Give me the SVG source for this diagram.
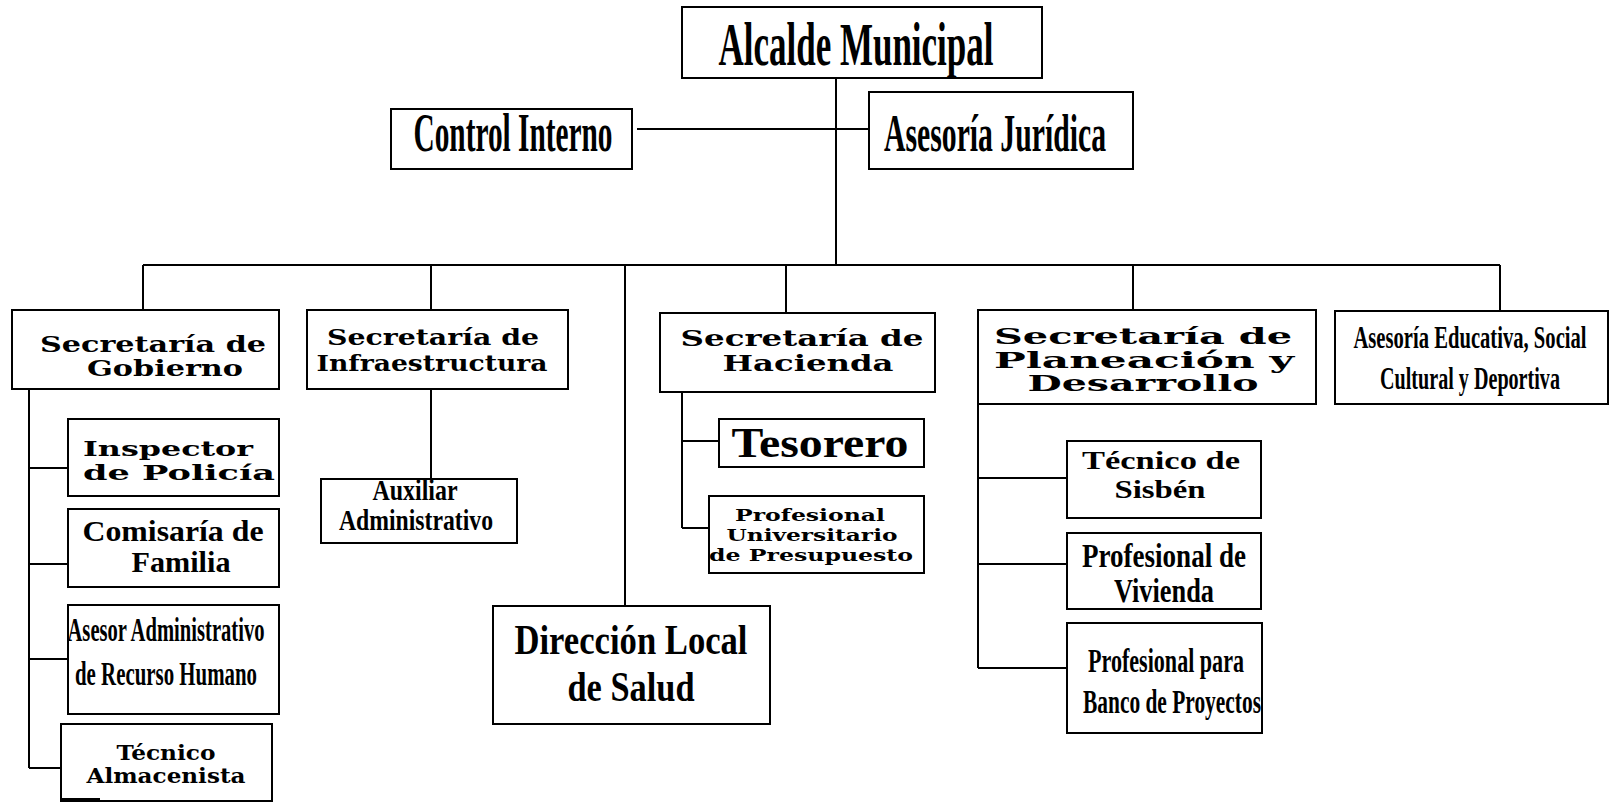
<svg xmlns="http://www.w3.org/2000/svg" width="1610" height="803" viewBox="0 0 1610 803">
<style>
rect{fill:#fff;stroke:#000;stroke-width:2}
.c path{fill:none;stroke:#000;stroke-width:2}
text{fill:#000;font-weight:bold;text-anchor:middle}
.x{font-family:"DejaVu Serif","Liberation Serif",serif}
.n{font-family:"Liberation Serif","Times New Roman",serif}
</style>
<rect x="0" y="0" width="1610" height="803" style="stroke:none"/>
<g class="c" id="connectors">
<path d="M836 78V265M637 129H869M143 265H1500M143 265V310M431 265V310M625 265V606M786 265V313M1133 265V310M1500 265V311"/>
<path d="M29 389V768M29 468H68M29 564H68M29 659H68M29 768H61"/>
<path d="M431 389V479"/>
<path d="M682 392V528M682 441H719M682 528H709"/>
<path d="M978 404V668M978 478H1067M978 564H1067M978 668H1067"/>
</g>
<g id="alcalde"><rect x="682" y="7" width="360" height="71"/><text class="n" x="856" y="65" font-size="62" textLength="275" lengthAdjust="spacingAndGlyphs">Alcalde Municipal</text></g>
<g id="control"><rect x="391" y="109" width="241" height="60"/><text class="n" x="513" y="151" font-size="54" textLength="199" lengthAdjust="spacingAndGlyphs">Control Interno</text></g>
<g id="juridica"><rect x="869" y="92" width="264" height="77"/><text class="n" x="995" y="151" font-size="52" textLength="222" lengthAdjust="spacingAndGlyphs">Asesoría Jurídica</text></g>
<g id="gobierno"><rect x="12" y="310" width="267" height="79"/><text class="x" x="153" y="352" font-size="23" textLength="226" lengthAdjust="spacingAndGlyphs">Secretaría de</text><text class="x" x="165" y="376" font-size="23" textLength="156" lengthAdjust="spacingAndGlyphs">Gobierno</text></g>
<g id="infra"><rect x="307" y="310" width="261" height="79"/><text class="x" x="433" y="345" font-size="23" textLength="212" lengthAdjust="spacingAndGlyphs">Secretaría de</text><text class="x" x="432" y="371" font-size="23" textLength="231" lengthAdjust="spacingAndGlyphs">Infraestructura</text></g>
<g id="hacienda"><rect x="660" y="313" width="275" height="79"/><text class="x" x="802" y="346" font-size="23" textLength="243" lengthAdjust="spacingAndGlyphs">Secretaría de</text><text class="x" x="808" y="371" font-size="23" textLength="171" lengthAdjust="spacingAndGlyphs">Hacienda</text></g>
<g id="planeacion"><rect x="978" y="310" width="338" height="94"/><text class="x" x="1143" y="344" font-size="22" textLength="298" lengthAdjust="spacingAndGlyphs">Secretaría de</text><text class="x" x="1144" y="368" font-size="22" textLength="300" lengthAdjust="spacingAndGlyphs">Planeación y</text><text class="x" x="1143" y="391" font-size="22" textLength="231" lengthAdjust="spacingAndGlyphs">Desarrollo</text></g>
<g id="educativa"><rect x="1335" y="311" width="273" height="93"/><text class="n" transform="translate(1470 348) scale(0.7 1)" x="0" y="0" font-size="31" textLength="333" lengthAdjust="spacingAndGlyphs">Asesoría Educativa, Social</text><text class="n" transform="translate(1470 389) scale(0.7 1)" x="0" y="0" font-size="31" textLength="257" lengthAdjust="spacingAndGlyphs">Cultural y Deportiva</text></g>
<g id="inspector"><rect x="68" y="419" width="211" height="77"/><text class="x" x="168" y="456" font-size="21" textLength="170" lengthAdjust="spacingAndGlyphs">Inspector</text><text class="x" x="179" y="480" font-size="21" textLength="192" lengthAdjust="spacingAndGlyphs">de Policía</text></g>
<g id="comisaria"><rect x="68" y="509" width="211" height="78"/><text class="n" x="173" y="541" font-size="30" textLength="181" lengthAdjust="spacingAndGlyphs">Comisaría de</text><text class="n" x="181" y="572" font-size="30" textLength="99" lengthAdjust="spacingAndGlyphs">Familia</text></g>
<g id="asesor"><rect x="68" y="605" width="211" height="109"/><text class="n" x="166" y="641" font-size="34" textLength="197" lengthAdjust="spacingAndGlyphs">Asesor Administrativo</text><text class="n" x="166" y="685" font-size="34" textLength="182" lengthAdjust="spacingAndGlyphs">de Recurso Humano</text></g>
<g id="almacenista"><rect x="61" y="724" width="211" height="77"/><path d="M61 799H100" style="stroke:#000;stroke-width:2"/><text class="x" x="166" y="760" font-size="20" textLength="99" lengthAdjust="spacingAndGlyphs">Técnico</text><text class="x" x="166" y="783" font-size="20" textLength="159" lengthAdjust="spacingAndGlyphs">Almacenista</text></g>
<g id="auxiliar"><rect x="321" y="479" width="196" height="64"/><text class="n" x="415" y="500" font-size="29" textLength="85" lengthAdjust="spacingAndGlyphs">Auxiliar</text><text class="n" x="416" y="530" font-size="29" textLength="154" lengthAdjust="spacingAndGlyphs">Administrativo</text></g>
<g id="tesorero"><rect x="719" y="419" width="205" height="48"/><text class="n" x="820" y="457" font-size="42" textLength="177" lengthAdjust="spacingAndGlyphs">Tesorero</text></g>
<g id="presupuesto"><rect x="709" y="496" width="215" height="77"/><text class="x" x="810" y="521" font-size="17" textLength="150" lengthAdjust="spacingAndGlyphs">Profesional</text><text class="x" x="812" y="541" font-size="17" textLength="171" lengthAdjust="spacingAndGlyphs">Universitario</text><text class="x" x="811" y="561" font-size="17" textLength="204" lengthAdjust="spacingAndGlyphs">de Presupuesto</text></g>
<g id="salud"><rect x="493" y="606" width="277" height="118"/><text class="n" x="631" y="654" font-size="42" textLength="233" lengthAdjust="spacingAndGlyphs">Dirección Local</text><text class="n" x="631" y="701" font-size="42" textLength="127" lengthAdjust="spacingAndGlyphs">de Salud</text></g>
<g id="sisben"><rect x="1067" y="441" width="194" height="77"/><text class="n" x="1161" y="469" font-size="25" textLength="158" lengthAdjust="spacingAndGlyphs">Técnico de</text><text class="n" x="1160" y="498" font-size="25" textLength="91" lengthAdjust="spacingAndGlyphs">Sisbén</text></g>
<g id="vivienda"><rect x="1067" y="533" width="194" height="76"/><text class="n" x="1164" y="567" font-size="33" textLength="164" lengthAdjust="spacingAndGlyphs">Profesional de</text><text class="n" x="1164" y="602" font-size="33" textLength="100" lengthAdjust="spacingAndGlyphs">Vivienda</text></g>
<g id="banco"><rect x="1067" y="623" width="195" height="110"/><text class="n" x="1166" y="672" font-size="34" textLength="156" lengthAdjust="spacingAndGlyphs">Profesional para</text><text class="n" x="1172" y="713" font-size="34" textLength="178" lengthAdjust="spacingAndGlyphs">Banco de Proyectos</text></g>
</svg>
